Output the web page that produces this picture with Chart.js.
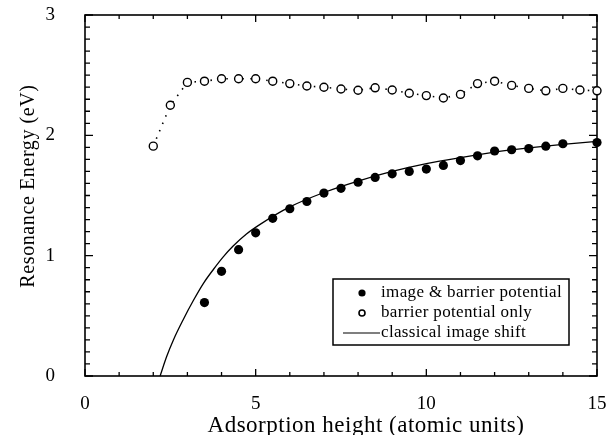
<!DOCTYPE html>
<html>
<head>
<meta charset="utf-8">
<script src="https://cdn.jsdelivr.net/npm/chart.js@4.4.1/dist/chart.umd.min.js"></script>
<style>
  html, body { margin: 0; padding: 0; background: #fff; }
  canvas { display: block; }
</style>
</head>
<body>
<canvas id="chart" width="609" height="435"></canvas>
<script>
/* ── Data ───────────────────────────────────────────────────── */

// image & barrier potential (filled circles)
const imageX = [3.5, 4, 4.5, 5, 5.5, 6, 6.5, 7, 7.5, 8, 8.5, 9, 9.5, 10, 10.5, 11, 11.5, 12, 12.5, 13, 13.5, 14, 15];
const imageE = [0.61, 0.87, 1.05, 1.19, 1.31, 1.39, 1.45, 1.52, 1.56, 1.61, 1.65, 1.68, 1.70, 1.72, 1.75, 1.79, 1.83, 1.87, 1.88, 1.89, 1.91, 1.93, 1.94];

// barrier potential only (open circles, dotted)
const barrierX = [2, 2.5, 3, 3.5, 4, 4.5, 5, 5.5, 6, 6.5, 7, 7.5, 8, 8.5, 9, 9.5, 10, 10.5, 11, 11.5, 12, 12.5, 13, 13.5, 14, 14.5, 15];
const barrierE = [1.91, 2.25, 2.44, 2.45, 2.47, 2.47, 2.47, 2.45, 2.43, 2.41, 2.40, 2.385, 2.375, 2.395, 2.377, 2.35, 2.33, 2.31, 2.34, 2.43, 2.45, 2.415, 2.39, 2.37, 2.39, 2.377, 2.37];

// classical image shift (solid curve)
const classicalX = [2.2, 2.39, 2.59, 2.88, 3.17, 3.47, 3.76, 4.05, 4.34, 4.73, 5.13, 6, 7, 8, 9, 10, 11, 12, 13, 14, 15];
const classicalE = [0, 0.16, 0.30, 0.47, 0.625, 0.77, 0.885, 0.99, 1.08, 1.18, 1.26, 1.405, 1.525, 1.62, 1.70, 1.765, 1.815, 1.86, 1.895, 1.925, 1.95];

const xTicks = [0, 5, 10, 15];
const yTicks = [0, 1, 2, 3];

const legendLabels = ["image & barrier potential", "barrier potential only", "classical image shift"];
const xTitle = "Adsorption height (atomic units)";
const yTitle = "Resonance Energy (eV)";

const SERIF = "'Liberation Serif', 'DejaVu Serif', serif";

const pts = (xs, ys) => xs.map((x, i) => ({ x, y: ys[i] }));

/* ── Frame, inward ticks, axis titles, legend ───────────────── */

const framePlugin = {
  id: "frame",
  beforeDatasetsDraw(chart) {
    const { ctx, chartArea: a, scales: { x, y } } = chart;
    ctx.save();
    ctx.strokeStyle = "#000";
    ctx.lineWidth = 1.6;
    ctx.strokeRect(a.left, a.top, a.right - a.left, a.bottom - a.top);

    ctx.lineWidth = 1.3;
    ctx.beginPath();
    for (let v = 0; v <= 15; v++) {
      const px = x.getPixelForValue(v);
      const len = v % 5 === 0 ? 7 : 4;
      ctx.moveTo(px, a.bottom); ctx.lineTo(px, a.bottom - len);
      ctx.moveTo(px, a.top);    ctx.lineTo(px, a.top + len);
    }
    for (let k = 0; k <= 30; k++) {
      const py = y.getPixelForValue(k / 10);
      const len = k % 10 === 0 ? 8 : 5;
      ctx.moveTo(a.left, py);  ctx.lineTo(a.left + len, py);
      ctx.moveTo(a.right, py); ctx.lineTo(a.right - len, py);
    }
    ctx.stroke();
    ctx.restore();
  },
  afterDraw(chart) {
    const { ctx } = chart;
    ctx.save();
    ctx.fillStyle = "#000";

    // axis titles
    ctx.font = `23px ${SERIF}`;
    ctx.letterSpacing = "0.5px";
    ctx.textAlign = "center";
    ctx.textBaseline = "alphabetic";
    ctx.fillText(xTitle, 366, 432);

    ctx.translate(29, 186);
    ctx.rotate(-Math.PI / 2);
    ctx.font = `20px ${SERIF}`;
    ctx.letterSpacing = "0.6px";
    ctx.textBaseline = "middle";
    ctx.fillText(yTitle, 0, 0);
    ctx.setTransform(1, 0, 0, 1, 0, 0);

    // legend box
    const bx = 333, by = 279, bw = 236, bh = 66;
    ctx.lineWidth = 1.5;
    ctx.strokeStyle = "#000";
    ctx.strokeRect(bx, by, bw, bh);

    const rows = [293, 313, 333];
    ctx.font = `17px ${SERIF}`;
    ctx.letterSpacing = "0.35px";
    ctx.textAlign = "left";
    ctx.textBaseline = "middle";
    legendLabels.forEach((t, i) => ctx.fillText(t, 381, rows[i]));

    ctx.beginPath();
    ctx.arc(362, rows[0], 3.6, 0, Math.PI * 2);
    ctx.fill();

    ctx.beginPath();
    ctx.arc(362, rows[1], 3, 0, Math.PI * 2);
    ctx.lineWidth = 1.6;
    ctx.stroke();

    ctx.beginPath();
    ctx.lineWidth = 1.2;
    ctx.moveTo(343, rows[2]);
    ctx.lineTo(380, rows[2]);
    ctx.stroke();

    ctx.restore();
  }
};

/* ── Chart ──────────────────────────────────────────────────── */

new Chart(document.getElementById("chart"), {
  type: "scatter",
  data: {
    datasets: [
      {
        label: legendLabels[0],
        data: pts(imageX, imageE),
        pointRadius: 4.6,
        pointBackgroundColor: "#000",
        pointBorderColor: "#000",
        pointBorderWidth: 0,
        showLine: false,
        clip: false,
      },
      {
        label: legendLabels[1],
        data: pts(barrierX, barrierE),
        showLine: true,
        borderColor: "#000",
        borderWidth: 1.6,
        borderDash: [1.5, 6.5],
        pointRadius: 4,
        pointBackgroundColor: "#fff",
        pointBorderColor: "#000",
        pointBorderWidth: 1.4,
        clip: false,
      },
      {
        label: legendLabels[2],
        data: pts(classicalX, classicalE),
        showLine: true,
        borderColor: "#000",
        borderWidth: 1.3,
        cubicInterpolationMode: "monotone",
        pointRadius: 0,
        clip: false,
      },
    ],
  },
  options: {
    responsive: false,
    animation: false,
    events: [],
    layout: { padding: { top: 15, right: 12, left: 0, bottom: 0 } },
    plugins: {
      legend: { display: false },
      tooltip: { enabled: false },
    },
    scales: {
      x: {
        type: "linear",
        min: 0, max: 15,
        afterFit: s => { s.height = 59; s.paddingLeft = 0; s.paddingRight = 0; },
        afterBuildTicks: s => { s.ticks = xTicks.map(v => ({ value: v })); },
        grid: { display: false, drawTicks: false },
        border: { display: false },
        ticks: { color: "#000", padding: 17, font: { family: SERIF, size: 19 } },
      },
      y: {
        type: "linear",
        min: 0, max: 3,
        afterFit: s => { s.width = 85; s.paddingTop = 0; s.paddingBottom = 0; },
        afterBuildTicks: s => { s.ticks = yTicks.map(v => ({ value: v })); },
        grid: { display: false, drawTicks: false },
        border: { display: false },
        ticks: { color: "#000", padding: 30, font: { family: SERIF, size: 19 } },
      },
    },
  },
  plugins: [framePlugin],
});
</script>
</body>
</html>
